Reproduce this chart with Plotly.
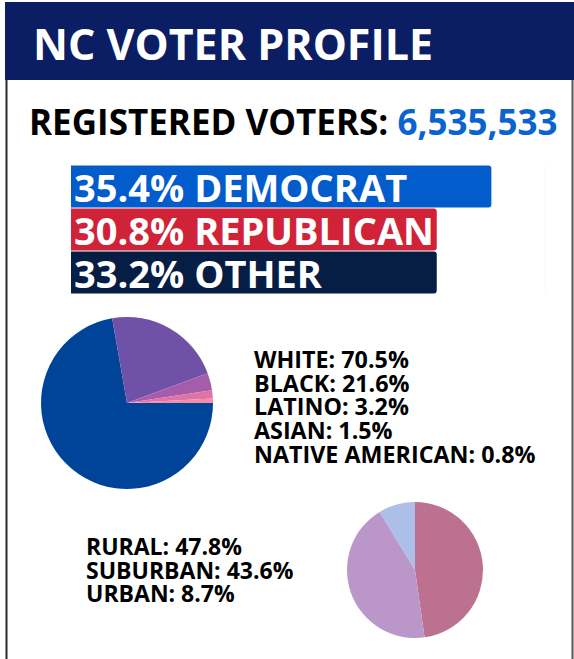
import plotly.graph_objects as go

W, H = 574, 659

# ---- data ----
title_text = "NC VOTER PROFILE"
registered_label = "REGISTERED VOTERS:"
registered_value = "6,535,533"

party_names = ["DEMOCRAT", "REPUBLICAN", "OTHER"]
party_pct_labels = [35.4, 30.8, 33.2]
party_bar_lengths = [35.4, 30.8, 30.8]   # lengths as drawn in the reference
party_colors = ["#035ccc", "#d02337", "#061d44"]

race_names = ["WHITE", "BLACK", "LATINO", "ASIAN", "NATIVE AMERICAN"]
race_values = [70.5, 21.6, 3.2, 1.5, 0.8]
race_colors = ["#00449a", "#6f52a8", "#a55dab", "#dc74a8", "#f78ba4"]

area_names = ["RURAL", "SUBURBAN", "URBAN"]
area_values = [47.8, 43.6, 8.7]
area_colors = ["#bc7191", "#bb96c8", "#adbfe8"]

FONT = "Open Sans"


def px_x(x):
    return x / W


def px_y(y):
    return 1 - y / H


fig = go.Figure()

# party bars
fig.add_trace(go.Bar(
    x=party_bar_lengths,
    y=party_names,
    orientation="h",
    marker=dict(color=party_colors, line=dict(width=0)),
    text=[f"{p}% {n}" for p, n in zip(party_pct_labels, party_names)],
    textposition="inside",
    insidetextanchor="start",
    constraintext="none",
    textfont=dict(family=FONT, size=38, color="white", weight="bold"),
    cliponaxis=False,
    hoverinfo="skip",
    xaxis="x", yaxis="y",
))

# race pie
fig.add_trace(go.Pie(
    labels=race_names,
    values=race_values,
    marker=dict(colors=race_colors, line=dict(width=0)),
    sort=False,
    direction="clockwise",
    rotation=90,
    textinfo="none",
    hoverinfo="skip",
    showlegend=False,
    domain=dict(x=[px_x(41), px_x(213)], y=[px_y(489), px_y(317)]),
))

# area pie
fig.add_trace(go.Pie(
    labels=area_names,
    values=area_values,
    marker=dict(colors=area_colors, line=dict(width=0)),
    sort=False,
    direction="clockwise",
    rotation=0,
    textinfo="none",
    hoverinfo="skip",
    showlegend=False,
    domain=dict(x=[px_x(347), px_x(483)], y=[px_y(638), px_y(502)]),
))

shapes = [
    # header band
    dict(type="rect", xref="paper", yref="paper",
         x0=px_x(5), x1=px_x(574), y0=px_y(80), y1=px_y(2),
         fillcolor="#0b1e63", line=dict(width=0), layer="below"),
    # left border
    dict(type="line", xref="paper", yref="paper",
         x0=px_x(6.5), x1=px_x(6.5), y0=px_y(80), y1=px_y(659),
         line=dict(color="#2a2a2a", width=2)),
    # right border
    dict(type="line", xref="paper", yref="paper",
         x0=px_x(572.5), x1=px_x(572.5), y0=px_y(80), y1=px_y(659),
         line=dict(color="#555555", width=2)),
    # bar axis end grid line
    dict(type="line", xref="x", yref="paper",
         x0=40, x1=40, y0=px_y(294), y1=px_y(165),
         line=dict(color="#eeeeee", width=1), layer="below"),
]

annotations = [
    dict(text=title_text, x=px_x(31), y=px_y(43), xref="paper", yref="paper",
         xanchor="left", yanchor="middle", showarrow=False,
         font=dict(family=FONT, size=43, color="white", weight="bold")),
    dict(text=f"{registered_label} <span style='color:#0a63cf'>{registered_value}</span>",
         x=px_x(27), y=px_y(121), xref="paper", yref="paper",
         xanchor="left", yanchor="middle", showarrow=False,
         font=dict(family=FONT, size=35, color="black", weight="bold")),
]

race_y = [359, 382.7, 406.4, 430, 453.8]
for n, v, yy in zip(race_names, race_values, race_y):
    annotations.append(dict(
        text=f"{n}: {v}%", x=px_x(251.5), y=px_y(yy), xref="paper", yref="paper",
        xanchor="left", yanchor="middle", showarrow=False,
        font=dict(family=FONT, size=23.3, color="black", weight="bold")))

area_y = [546, 569.5, 593]
for n, v, yy in zip(area_names, area_values, area_y):
    annotations.append(dict(
        text=f"{n}: {v}%", x=px_x(83.5), y=px_y(yy), xref="paper", yref="paper",
        xanchor="left", yanchor="middle", showarrow=False,
        font=dict(family=FONT, size=23, color="black", weight="bold")))

fig.update_layout(
    width=W, height=H,
    margin=dict(l=0, r=0, t=0, b=0),
    paper_bgcolor="white", plot_bgcolor="rgba(0,0,0,0)",
    showlegend=False,
    barmode="overlay",
    bargap=0.02,
    barcornerradius=3,
    xaxis=dict(domain=[px_x(71), px_x(546)], range=[0, 40],
               visible=False, fixedrange=True),
    yaxis=dict(domain=[px_y(294), px_y(165)], autorange="reversed",
               visible=False, fixedrange=True),
    shapes=shapes,
    annotations=annotations,
)

fig.write_html("out.html", config={"displayModeBar": False},
               post_script="document.body.style.margin='0';document.body.style.overflow='hidden';")
